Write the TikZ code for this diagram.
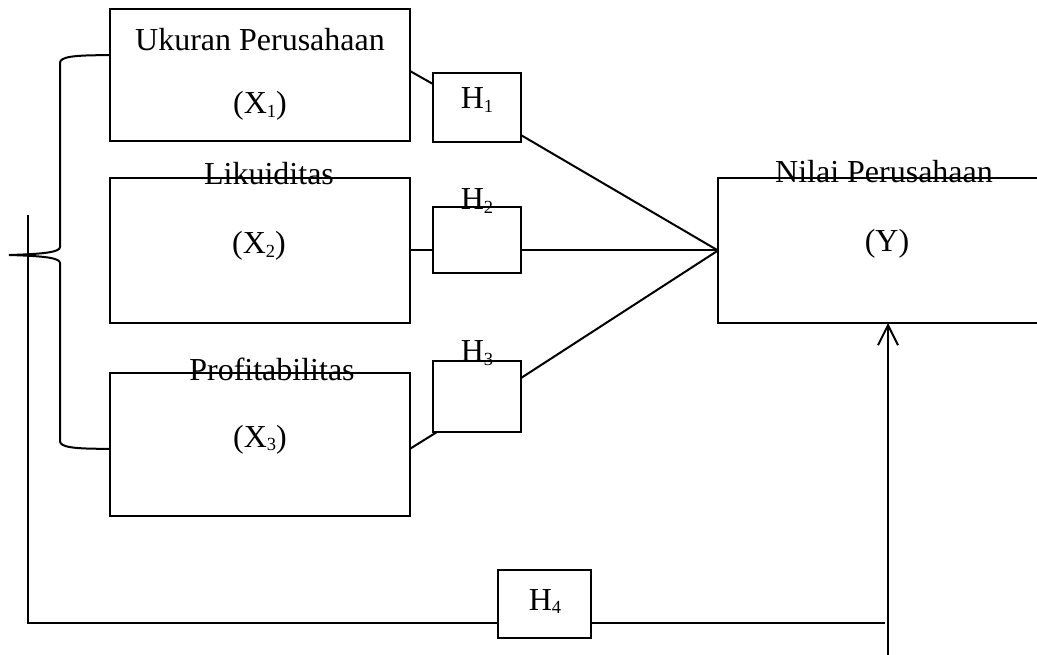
\documentclass[tikz,border=0pt]{standalone}
\usepackage{fontspec}
\setmainfont{Liberation Serif}
\usetikzlibrary{arrows.meta,calc}
\newcommand{\hsub}[1]{\raisebox{-3.5pt}{\fontsize{18.5}{18.5}\selectfont #1}}
\begin{document}
\begin{tikzpicture}[x=1pt,y=-1pt,
  box/.style={draw,line width=1.3pt,inner sep=0pt,outer sep=0pt},
  lbl/.style={inner sep=0pt,anchor=base,font=\fontsize{32}{38}\selectfont},
  conn/.style={line width=2pt}]
\useasboundingbox (0,0) rectangle (1037,655);
% boxes
\node[box,minimum width=300pt,minimum height=132pt] (x1) at (260,75) {};
\node[box,minimum width=300pt,minimum height=145pt] (x2) at (260,250.5) {};
\node[box,minimum width=300pt,minimum height=143pt] (x3) at (260,444.5) {};
\node[box,minimum width=88pt,minimum height=69pt] (h1) at (477,107.5) {};
\node[box,minimum width=88pt,minimum height=66pt] (h2) at (477,240) {};
\node[box,minimum width=88pt,minimum height=71pt] (h3) at (477,396.5) {};
\node[box,line width=2pt,minimum width=93pt,minimum height=68pt] (h4) at (544.5,604) {};
\node[box,minimum width=336pt,minimum height=145pt] (y) at (886,250.5) {};
% labels
\node[lbl] (tx1) at (260,51) {Ukuran Perusahaan};
\node[lbl] (sx1) at (260,114) {(X\hsub{1})};
\node[lbl] (tx2) at (269,185) {Likuiditas};
\node[lbl] (sx2) at (259,254) {(X\hsub{2})};
\node[lbl] (tx3) at (272,380) {Profitabilitas};
\node[lbl] (sx3) at (260,447) {(X\hsub{3})};
\node[lbl] (lh1) at (477,109) {H\hsub{1}};
\node[lbl] (lh2) at (477,210) {H\hsub{2}};
\node[lbl] (lh3) at (477,362) {H\hsub{3}};
\node[lbl] (lh4) at (545,610) {H\hsub{4}};
\node[lbl] (ty) at (884,183) {Nilai Perusahaan};
\node[lbl] (sy) at (887,252) {(Y)};
% connectors
\draw[conn] ($(x1.north east)!0.47!(x1.south east)$) -- ($(h1.north west)!0.16!(h1.south west)$);
\draw[conn] ($(h1.north east)!0.9!(h1.south east)$) -- (y.west);
\draw[conn] (x2.east) -- (h2.west |- x2.east);
\draw[conn] (h2.east |- x2.east) -- (y.west);
\draw[conn] ($(x3.north east)!0.53!(x3.south east)$) -- ($(h3.south west)+(4,0)$);
\draw[conn] ($(h3.north east)!0.24!(h3.south east)$) -- (y.west);
% brace
\draw[conn] ($(x1.north west)!0.35!(x1.south west)$) .. controls (72,55) and (60,57) .. (60,63)
  -- (60,247) .. controls (60,252) and (45,254) .. (9,255)
  .. controls (45,256) and (60,258) .. (60,263)
  -- (60,441) .. controls (60,447) and (72,449) .. ($(x3.north west)!0.53!(x3.south west)$);
% feedback
\coordinate (fb0) at (28,215);
\coordinate (fb1) at (28,623);
\coordinate (fb2) at (885,623);
\coordinate (ybot) at (888,660);
\draw[conn] (fb0) -- (fb1) -- (h4.west |- fb1);
\draw[conn] (h4.east |- fb1) -- (fb2);
\draw[conn,-{Straight Barb[length=20pt,width=20pt,line width=2pt]}] (ybot) -- (ybot |- y.south);
\end{tikzpicture}
\end{document}
